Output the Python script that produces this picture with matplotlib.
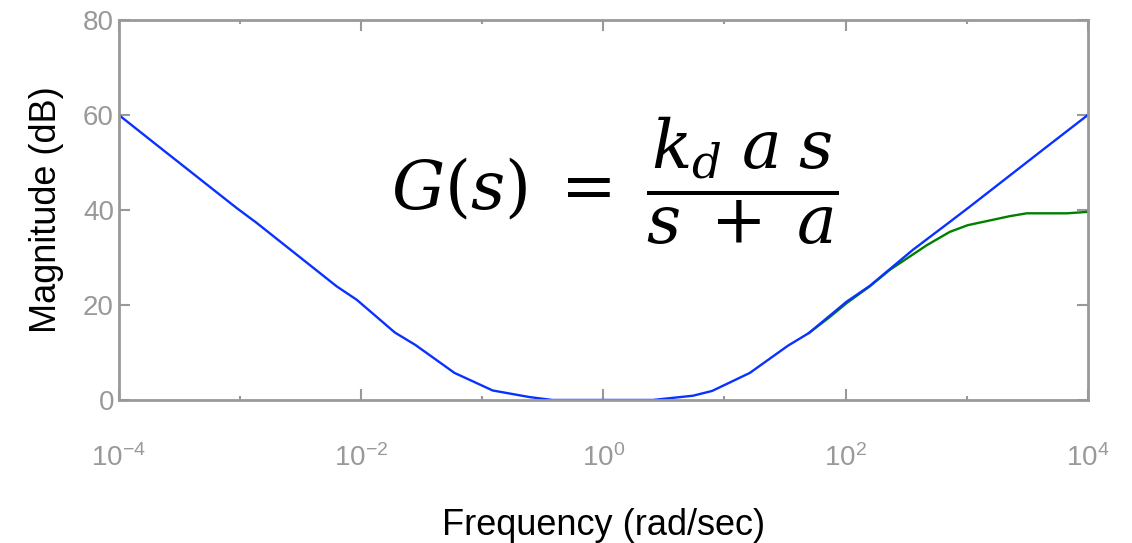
import matplotlib
matplotlib.use("Agg")
import matplotlib.pyplot as plt
from matplotlib.ticker import FixedLocator, NullFormatter

plt.rcParams['font.family'] = ['Liberation Sans', 'DejaVu Sans']
plt.rcParams['mathtext.fontset'] = 'custom'
plt.rcParams['mathtext.rm'] = 'Liberation Sans'
plt.rcParams['mathtext.it'] = 'Liberation Sans:italic'

# magnitude response of G(s), approximated
freq_full = [1e-4, 2.05e-4, 9.4e-4, 1.37e-3, 6.3e-3, 9.2e-3, 0.019, 0.028, 0.059,
             0.122, 0.247, 0.38, 2.56, 5.5, 7.9, 16.2, 33.3, 49.8, 102, 158,
             359, 726, 1060, 4680, 1e4]
mag_full = [60, 53.7, 40.4, 37.3, 23.9, 21.1, 14.2, 11.6, 5.7,
            2.0, 0.6, 0, 0, 0.9, 1.9, 5.7, 11.4, 14.1, 20.7, 24.0,
            31.6, 37.5, 40.7, 53.5, 60]

# high-frequency branch with the derivative filter
freq_filt = [49.8, 74.3, 102, 158, 232, 469, 726, 1020, 2270, 3130, 6710, 1e4]
mag_filt = [14.1, 17.5, 20.4, 23.9, 27.4, 32.6, 35.4, 36.8, 38.7, 39.3, 39.3, 39.6]

major_x = [1e-4, 1e-2, 1e0, 1e2, 1e4]
minor_x = [1e-3, 1e-1, 1e1, 1e3]
y_ticks = [0, 20, 40, 60, 80]

grey = '#999999'

fig = plt.figure(figsize=(11.32, 5.43), dpi=100)
ax = fig.add_axes([0.105, 0.2634, 0.856, 0.6998])

ax.semilogx(freq_filt, mag_filt, color='#008000', lw=1.7)
ax.semilogx(freq_full, mag_full, color='#0a32ff', lw=1.7)

ax.set_xlim(1e-4, 1e4)
ax.set_ylim(0, 80)
ax.xaxis.set_major_locator(FixedLocator(major_x))
ax.xaxis.set_minor_locator(FixedLocator(minor_x))
ax.xaxis.set_minor_formatter(NullFormatter())
ax.set_yticks(y_ticks)

for s in ax.spines.values():
    s.set_color(grey)
    s.set_linewidth(2)

ax.tick_params(which='major', direction='in', length=8, width=1.5, color=grey,
               labelcolor=grey, labelsize=20, top=True, right=True)
ax.tick_params(axis='x', which='major', pad=32)
ax.tick_params(which='minor', direction='in', length=3, width=1.5, color=grey,
               top=True, right=True)

ax.set_xlabel('Frequency (rad/sec)', fontsize=26, labelpad=26)
ax.set_ylabel('Magnitude (dB)', fontsize=26, labelpad=14)

ax.text(0.512, 0.575, r'$G(s)\;=\;\dfrac{k_d\;a\;s}{s\;+\;a}$', transform=ax.transAxes,
        fontsize=48, math_fontfamily='dejavuserif', ha='center', va='center')

fig.savefig('out.png', dpi=100)
